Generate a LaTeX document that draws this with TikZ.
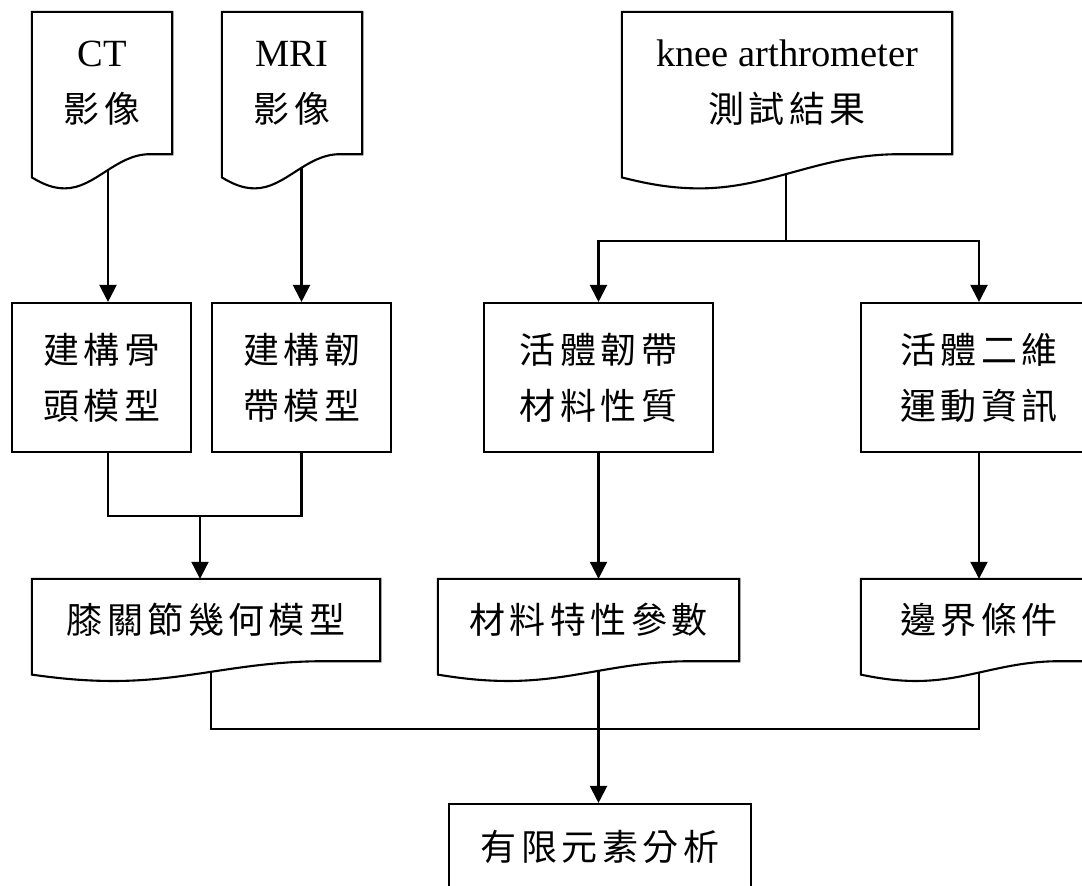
\documentclass[tikz,border=0pt]{standalone}
\usepackage{fontspec}
\setmainfont{Liberation Serif}
\newfontfamily\cjk{Noto Sans CJK TC}
\usetikzlibrary{arrows.meta,calc}
\pgfdeclarelayer{bg}
\pgfdeclarelayer{mid}
\pgfsetlayers{bg,mid,main}
\newlength\cjkgap
\setlength\cjkgap{4.5pt}
\def\zh#1{{\cjk\zhA#1\zhEnd}}
\def\zhA#1#2\zhEnd{#1\ifx\relax#2\relax\else\hspace{\cjkgap}\zhA#2\zhEnd\fi}
\newcommand\lat[1]{{\rmfamily\fontsize{38.5}{56}\selectfont #1}}
\newcommand\docoutline[1]{%
  \begin{pgfonlayer}{mid}
  \path[docline] let \p1=(#1.north west), \p2=(#1.south east), \n1={\x2-\x1}, \n2={\y1-\y2} in
   (\p1) -- (\x2,\y1) -- (\p2) -- (\x1+0.84*\n1,\y2)
   .. controls (\x1+0.6*\n1,\y2) and (\x1+0.45*\n1,\y1-1.24*\n2) .. (\x1+0.235*\n1,\y1-1.24*\n2)
   .. controls (\x1+0.15*\n1,\y1-1.24*\n2) and (\x1+0.08*\n1,\y1-1.21*\n2) .. (\x1,\y1-1.163*\n2) -- cycle;
  \end{pgfonlayer}}
\tikzset{
  txt/.style={font=\fontsize{36}{56}\selectfont\cjk, align=center, inner sep=0pt},
  docnode/.style={txt, rectangle, draw=none},
  docline/.style={draw=black, fill=white, line width=2.1pt, line join=miter},
  boxnode/.style={txt, rectangle, draw=black, fill=white, line width=2.1pt},
  link/.style={draw=black, line width=2.1pt},
  arr/.style={link, -{Triangle[width=17pt,length=17pt]}}
}
\begin{document}
\begin{tikzpicture}[x=1pt,y=-1pt]
\useasboundingbox (0,0) rectangle (1082,886);
\begin{pgfonlayer}{bg}
\fill[white] (0,0) rectangle (1082,886);
\end{pgfonlayer}
% input documents
\node[docnode, minimum width=140pt, minimum height=142pt] (ct) at (102,83) {\lat{CT}\\\zh{影像}};
\node[docnode, minimum width=140pt, minimum height=142pt] (mri) at (292,83) {\lat{MRI}\\\zh{影像}};
\node[docnode, minimum width=330pt, minimum height=142pt] (knee) at (787,83) {\lat{knee arthrometer}\\\zh{測試結果}};
\docoutline{ct}
\docoutline{mri}
\docoutline{knee}
% process boxes
\node[boxnode, minimum width=179pt, minimum height=149pt] (b1) at (101.5,377.5) {\zh{建構骨}\\\zh{頭模型}};
\node[boxnode, minimum width=179pt, minimum height=149pt] (b2) at (301.5,377.5) {\zh{建構韌}\\\zh{帶模型}};
\node[boxnode, minimum width=229pt, minimum height=149pt] (b3) at (598.5,377.5) {\zh{活體韌帶}\\\zh{材料性質}};
\node[boxnode, minimum width=236pt, minimum height=149pt] (b4) at (979,377.5) {\zh{活體二維}\\\zh{運動資訊}};
% output documents
\node[docnode, minimum width=348pt, minimum height=82pt] (geo) at (206,620) {\zh{膝關節幾何模型}};
\node[docnode, minimum width=301pt, minimum height=82pt] (mat) at (588.5,620) {\zh{材料特性參數}};
\node[docnode, minimum width=236pt, minimum height=82pt] (bnd) at (979,620) {\zh{邊界條件}};
\docoutline{geo}
\docoutline{mat}
\docoutline{bnd}
% final box
\node[boxnode, minimum width=302pt, minimum height=86pt] (fea) at (600,847) {\zh{有限元素分析}};
% junction points
\coordinate (kj) at (786,241);
\coordinate (j1) at (200,516);
\coordinate (j2) at (598,729);
\begin{pgfonlayer}{bg}
\draw[arr] ([xshift=6pt]ct.south) -- ([xshift=6pt]ct.south |- b1.north);
\draw[arr] (b2.north |- mri.south) -- (b2.north);
\draw[link] (knee.south -| kj) -- (kj);
\draw[arr] (kj) -| (b3.north);
\draw[arr] (kj) -| (b4.north);
\draw[link] ([xshift=6.5pt]b1.south) |- (b2.south |- j1) -- (b2.south);
\draw[arr] (j1) -- (j1 |- geo.north);
\draw[arr] (b3.south) -- (b3.south |- mat.north);
\draw[arr] (b4.south) -- (bnd.north);
\draw[link] ([xshift=5pt]geo.south) |- (bnd.south |- j2) -- (bnd.south);
\draw[arr] (b3.south |- mat.south) -- (b3.south |- fea.north);
\end{pgfonlayer}
\end{tikzpicture}
\end{document}
